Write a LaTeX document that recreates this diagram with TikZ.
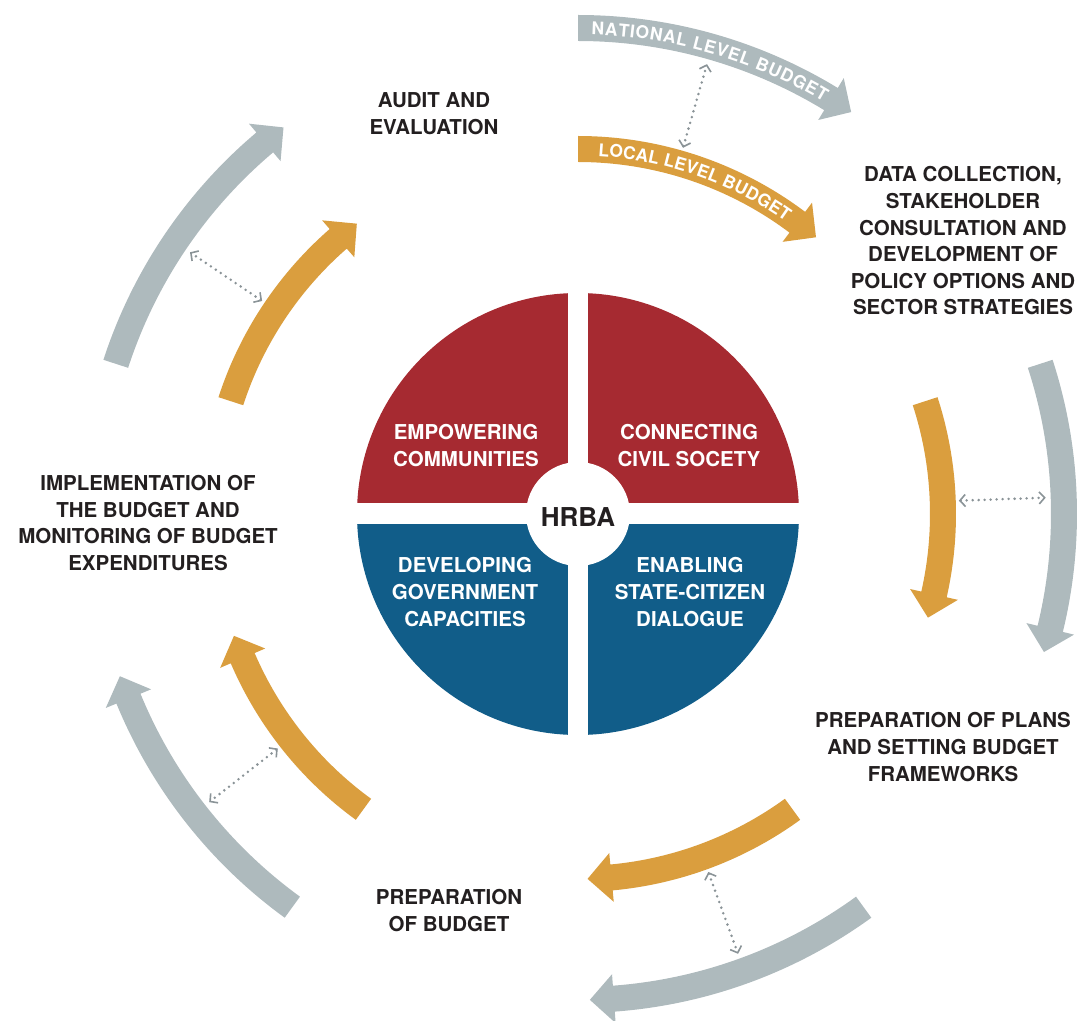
\documentclass[tikz,border=0pt]{standalone}
\usepackage{fontspec}
\setmainfont{TeX Gyre Heros}
\usetikzlibrary{arrows.meta,decorations.text}
\definecolor{hred}{HTML}{A62A31}
\definecolor{hblue}{HTML}{115D89}
\definecolor{horange}{HTML}{DA9E3E}
\definecolor{hgray}{HTML}{AEBABD}
\definecolor{htext}{HTML}{231F20}
\definecolor{hdot}{HTML}{8A9397}
\newcommand{\cbarrow}[4]{%
  \pgfmathsetmacro{\cbbase}{#4+24/#2*57.29578}%
  \pgfmathsetmacro{\cbri}{#2-13}%
  \pgfmathsetmacro{\cbro}{#2+13}%
  \pgfmathsetmacro{\cbhi}{#2-24.5}%
  \pgfmathsetmacro{\cbho}{#2+24.5}%
  \fill[#1] (#3:\cbri) arc[start angle=#3, end angle=\cbbase, radius=\cbri]
    -- (\cbbase:\cbhi) -- (#4:#2) -- (\cbbase:\cbho) -- (\cbbase:\cbro)
    arc[start angle=\cbbase, end angle=#3, radius=\cbro] -- cycle;}
\begin{document}
\begin{tikzpicture}[x=1pt,y=1pt,
  steplabel/.style={text=htext, align=center, inner sep=0pt,
    font=\fontsize{20.5}{26.6}\selectfont\bfseries},
  quadlabel/.style={text=white, align=center, inner sep=0pt,
    font=\fontsize{20.5}{26.6}\selectfont\bfseries},
  dotarrow/.style={hdot, line width=2.8pt, line cap=round,
    dash pattern=on 0pt off 6pt,
    {Straight Barb[length=5.5pt,width=12pt,line width=1.6pt]}-{Straight Barb[length=5.5pt,width=12pt,line width=1.6pt]}}
]
\useasboundingbox (-578,-506) rectangle (503,514);
% central disc
\fill[hred] (-221,0) arc[start angle=180, end angle=0, radius=221] -- cycle;
\fill[hblue] (221,0) arc[start angle=0, end angle=-180, radius=221] -- cycle;
\fill[white] (-10,-222) rectangle (10,222);
\fill[white] (-222,-10) rectangle (222,11);
\fill[white] (0,0) circle[radius=52];
\node[text=htext, font=\fontsize{26}{28}\selectfont\bfseries] (hrba) at (0,-3) {HRBA};
\node[quadlabel] (empower) at (-112,68.5) {EMPOWERING\\COMMUNITIES};
\node[quadlabel] (connect) at (111,68.5) {CONNECTING\\CIVIL SOCETY};
\node[quadlabel] (develop) at (-113,-78) {DEVELOPING\\GOVERNMENT\\CAPACITIES};
\node[quadlabel] (enable) at (112,-78) {ENABLING\\STATE-CITIZEN\\DIALOGUE};
% outer curved arrows
\cbarrow{hgray}{486}{90}{55.8}
\cbarrow{horange}{365}{90}{49.3}
\cbarrow{hgray}{486}{18}{-16.5}
\cbarrow{horange}{365}{18}{-16.5}
\cbarrow{hgray}{486}{-54}{-88.6}
\cbarrow{horange}{365}{-54}{-88.5}
\cbarrow{hgray}{486}{234}{199.5}
\cbarrow{horange}{365}{234}{199.5}
\cbarrow{hgray}{486}{162}{127.3}
\cbarrow{horange}{365}{162}{127.3}
% curved labels
\path[decorate, decoration={text along path, text color=white,
  text align=fit to path,
  text={|\fontsize{17.5}{19}\selectfont\bfseries|NATIONAL LEVEL BUDGET}}]
  (88.4:479.5) arc[start angle=88.4, end angle=59.2, radius=479.5];
\path[decorate, decoration={text along path, text color=white,
  text align=fit to path,
  text={|\fontsize{17.5}{19}\selectfont\bfseries|LOCAL LEVEL BUDGET}}]
  (86.8:358.5) arc[start angle=86.8, end angle=54.6, radius=358.5];
% dotted double arrows
\foreach \a/\n in {2/r,74/t,146/tl,218/bl,290/b}{
  \coordinate (in\n) at (\a:381);
  \coordinate (out\n) at (\a:468);
  \draw[dotarrow] (in\n) -- (out\n);
}
% step labels
\node[steplabel] (audit) at (-144,400.5) {AUDIT AND\\EVALUATION};
\node[steplabel] (data) at (385,273) {DATA COLLECTION,\\STAKEHOLDER\\CONSULTATION AND\\DEVELOPMENT OF\\POLICY OPTIONS AND\\SECTOR STRATEGIES};
\node[steplabel] (plans) at (365,-233) {PREPARATION OF PLANS\\AND SETTING BUDGET\\FRAMEWORKS};
\node[steplabel] (prepbud) at (-129,-396.5) {PREPARATION\\OF BUDGET};
\node[steplabel] (implement) at (-430,-9) {IMPLEMENTATION OF\\THE BUDGET AND\\MONITORING OF BUDGET\\EXPENDITURES};
\end{tikzpicture}
\end{document}
